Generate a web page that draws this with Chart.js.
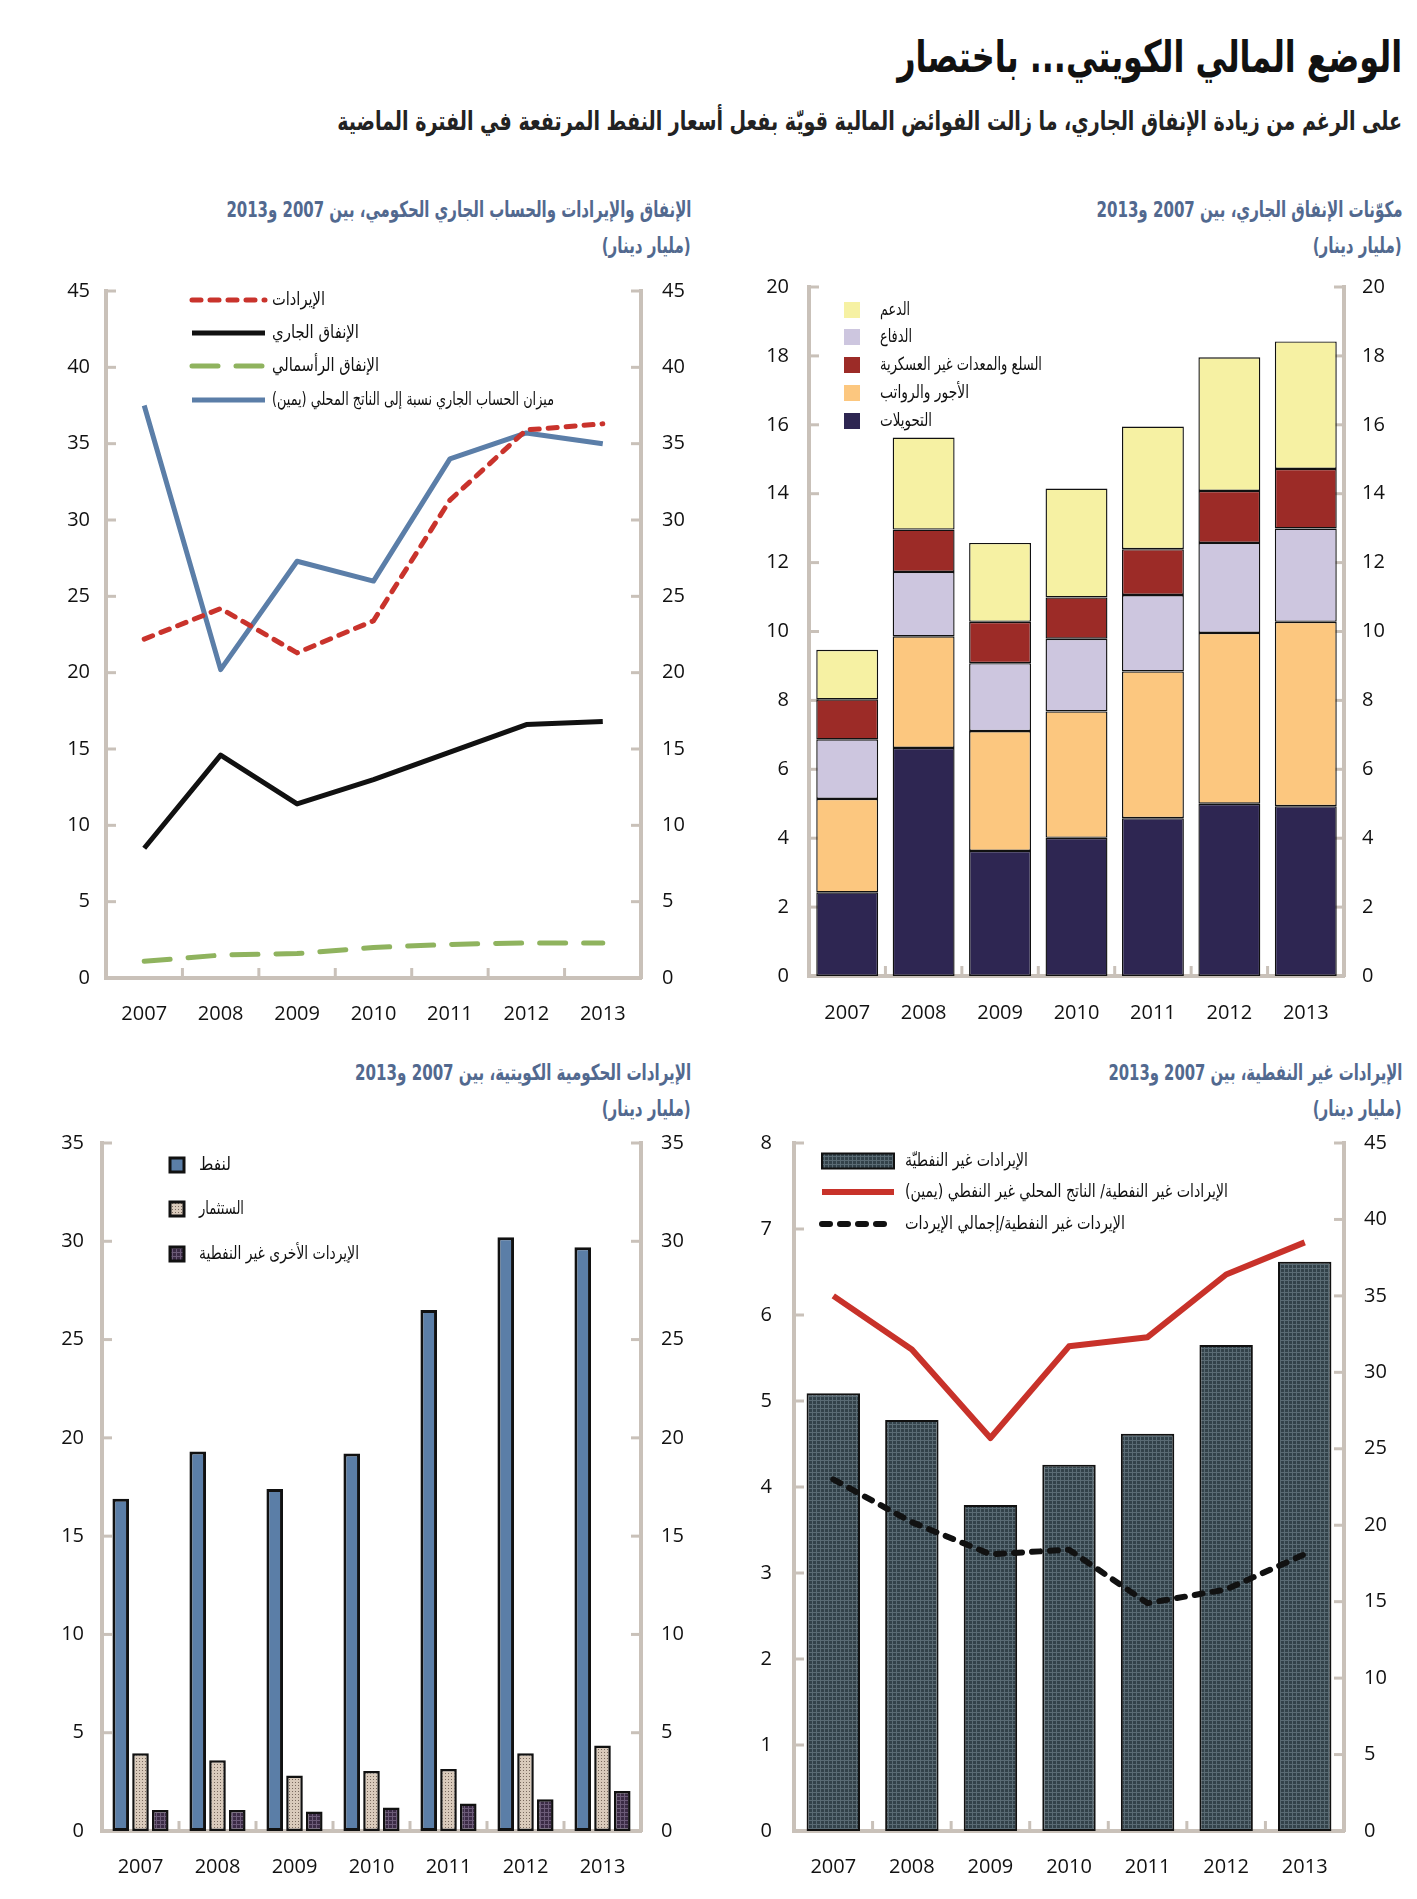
<!DOCTYPE html>
<html lang="ar">
<head>
<meta charset="utf-8">
<script src="https://cdn.jsdelivr.net/npm/chart.js@4.4.1/dist/chart.umd.min.js"></script>
<style>
html,body{margin:0;padding:0;background:#fff;}
body{width:1417px;height:1899px;position:relative;overflow:hidden;font-family:"DejaVu Sans Condensed","DejaVu Sans",sans-serif;}
.t{position:absolute;white-space:nowrap;direction:rtl;transform-origin:right center;line-height:1.3;}
.main{font-size:44px;font-weight:bold;color:#111;}
.sub{font-size:26px;font-weight:bold;color:#222;}
.pt{font-size:22px;font-weight:bold;color:#52698f;}
canvas{position:absolute;}
</style>
</head>
<body>
<div class="t main" data-r="1402" data-cy="57" data-w="505">الوضع المالي الكويتي... باختصار</div>
<div class="t sub" data-r="1402" data-cy="122" data-w="1065">على الرغم من زيادة الإنفاق الجاري، ما زالت الفوائض المالية قويّة بفعل أسعار النفط المرتفعة في الفترة الماضية</div>

<div class="t pt" data-r="691" data-cy="210" data-w="465">الإنفاق والإيرادات والحساب الجاري الحكومي، بين 2007 و2013</div>
<div class="t pt" data-r="691" data-cy="246" data-w="89">(مليار دينار)</div>
<div class="t pt" data-r="1402" data-cy="210" data-w="306">مكوّنات الإنفاق الجاري، بين 2007 و2013</div>
<div class="t pt" data-r="1402" data-cy="246" data-w="89">(مليار دينار)</div>
<div class="t pt" data-r="691" data-cy="1073" data-w="336">الإيرادات الحكومية الكويتية، بين 2007 و2013</div>
<div class="t pt" data-r="691" data-cy="1109" data-w="89">(مليار دينار)</div>
<div class="t pt" data-r="1402" data-cy="1073" data-w="294">الإيرادات غير النفطية، بين 2007 و2013</div>
<div class="t pt" data-r="1402" data-cy="1109" data-w="89">(مليار دينار)</div>

<canvas id="cA" width="708" height="810" style="left:0;top:250px"></canvas>
<canvas id="cB" width="709" height="810" style="left:708px;top:250px"></canvas>
<canvas id="cC" width="708" height="799" style="left:0;top:1100px"></canvas>
<canvas id="cD" width="709" height="799" style="left:708px;top:1100px"></canvas>

<script>
// ---------------- DATA ----------------
const years = ['2007', '2008', '2009', '2010', '2011', '2012', '2013'];

// Chart 1: spending, revenue and current account (billion KD; right axis %)
const revenue = [22.2, 24.2, 21.3, 23.4, 31.3, 35.9, 36.3];
const currentSpending = [8.5, 14.6, 11.4, 13.0, 14.8, 16.6, 16.8];
const capitalSpending = [1.1, 1.5, 1.6, 2.0, 2.2, 2.3, 2.3];
const currentAccountGdp = [37.5, 20.2, 27.3, 26.0, 34.0, 35.7, 35.0];
const ticksA = [0, 45, 5];

// Chart 2: components of current spending (billion KD)
const transfers = [2.43, 6.62, 3.63, 4.01, 4.58, 5.00, 4.93];
const wages = [2.71, 3.24, 3.48, 3.67, 4.26, 4.96, 5.35];
const defense = [1.73, 1.87, 1.97, 2.11, 2.22, 2.61, 2.71];
const goods = [1.16, 1.23, 1.20, 1.20, 1.33, 1.51, 1.73];
const subsidies = [1.44, 2.67, 2.29, 3.16, 3.56, 3.88, 3.70];
const ticksB = [0, 20, 2];

// Chart 3: government revenue (billion KD)
const oilRevenue = [16.9, 19.3, 17.4, 19.2, 26.5, 30.2, 29.7];
const investmentRevenue = [3.95, 3.60, 2.82, 3.05, 3.15, 3.95, 4.35];
const otherNonOil = [1.07, 1.07, 0.99, 1.19, 1.40, 1.62, 2.04];
const ticksC = [0, 35, 5];

// Chart 4: non-oil revenue (billion KD; right axis %)
const nonOilRevenue = [5.09, 4.78, 3.79, 4.26, 4.62, 5.65, 6.62];
const nonOilToNonOilGdp = [35.0, 31.5, 25.7, 31.7, 32.3, 36.4, 38.5];
const nonOilToTotal = [23.0, 20.2, 18.1, 18.4, 14.9, 15.8, 18.1];
const ticksDLeft = [0, 8, 1];
const ticksDRight = [0, 45, 5];

// ---------------- TEXT PLACEMENT ----------------
document.querySelectorAll('.t').forEach(el => {
  const r = +el.dataset.r, cy = +el.dataset.cy, w = +el.dataset.w;
  el.style.right = (1417 - r) + 'px';
  const rect = el.getBoundingClientRect();
  el.style.top = (cy - rect.height / 2) + 'px';
  if (w) el.style.transform = 'scaleX(' + (w / rect.width) + ')';
});

// ---------------- STYLE HELPERS ----------------
const AXIS = '#c9c1b9';
const NUM_FONT = { family: '"Open Sans", sans-serif', size: 20 };
const AR_FONT = '"DejaVu Sans Condensed", "DejaVu Sans", sans-serif';

function pattern(w, h, base, draw) {
  const c = document.createElement('canvas');
  c.width = w; c.height = h;
  const g = c.getContext('2d');
  g.fillStyle = base; g.fillRect(0, 0, w, h);
  draw(g);
  return g.createPattern(c, 'repeat');
}
const investPattern = pattern(3, 3, '#d9cabb', g => { g.fillStyle = '#7a6a5f'; g.fillRect(1, 1, 1, 1); });
const otherPattern = pattern(4, 4, '#3b2b45', g => { g.fillStyle = '#6c5b78'; g.fillRect(0, 0, 4, 1); g.fillRect(0, 0, 1, 4); });
const nonOilPattern = pattern(4, 4, '#33424a', g => { g.fillStyle = '#5a6b74'; g.fillRect(0, 0, 4, 1); g.fillRect(0, 0, 1, 4); });

function yScale(pos, t, width, pad) {
  return {
    type: 'linear', position: pos, min: t[0], max: t[1],
    ticks: { stepSize: t[2], padding: pad, color: '#111', font: NUM_FONT },
    grid: { display: false, drawTicks: false },
    border: { display: true, color: AXIS, width: 4 },
    afterFit(s) { s.width = width; }
  };
}
function xScale(height, pad, stacked) {
  return {
    type: 'category', offset: true, stacked: !!stacked,
    ticks: { padding: pad, color: '#111', font: NUM_FONT, maxRotation: 0, autoSkip: false },
    grid: { display: false, drawTicks: false, offset: true },
    border: { display: true, color: AXIS, width: 4 },
    afterFit(s) { s.height = height; }
  };
}

const innerTicks = {
  id: 'innerTicks',
  beforeDatasetsDraw(chart) {
    const { ctx, chartArea: a } = chart;
    ctx.save();
    ctx.strokeStyle = AXIS; ctx.lineWidth = 3;
    for (const s of Object.values(chart.scales)) {
      if (s.axis === 'y') {
        const left = s.position === 'left';
        const x0 = left ? a.left : a.right, d = left ? 1 : -1;
        s.ticks.forEach(t => {
          const y = s.getPixelForValue(t.value);
          ctx.beginPath(); ctx.moveTo(x0, y); ctx.lineTo(x0 + d * 10, y); ctx.stroke();
        });
      } else {
        for (let i = 0; i < s.ticks.length - 1; i++) {
          const x = (s.getPixelForTick(i) + s.getPixelForTick(i + 1)) / 2;
          ctx.beginPath(); ctx.moveTo(x, a.bottom); ctx.lineTo(x, a.bottom - 10); ctx.stroke();
        }
      }
    }
    ctx.restore();
  }
};

const customLegend = {
  id: 'customLegend',
  afterDatasetsDraw(chart, args, o) {
    if (!o || !o.items) return;
    const ctx = chart.ctx;
    o.items.forEach(it => {
      const ds = chart.data.datasets[it.ds];
      const kind = it.kind || o.kind;
      ctx.save();
      if (kind === 'line') {
        ctx.strokeStyle = ds.borderColor;
        ctx.lineWidth = ds.borderWidth;
        ctx.lineCap = ds.borderCapStyle || 'butt';
        ctx.setLineDash(ds.borderDash || []);
        ctx.beginPath(); ctx.moveTo(o.x0, it.y); ctx.lineTo(o.x1, it.y); ctx.stroke();
        ctx.setLineDash([]);
      } else {
        const h = it.boxH || o.boxH;
        ctx.fillStyle = ds.backgroundColor;
        ctx.fillRect(o.x0, it.y - h / 2, o.x1 - o.x0, h);
        const bw = it.boxBorder || o.boxBorder;
        if (bw) {
          ctx.strokeStyle = ds.borderColor; ctx.lineWidth = bw;
          ctx.strokeRect(o.x0, it.y - h / 2, o.x1 - o.x0, h);
        }
      }
      ctx.restore();
      ctx.save();
      ctx.font = o.fontSize + 'px ' + AR_FONT;
      ctx.direction = 'rtl';
      ctx.textAlign = 'left';
      ctx.textBaseline = 'middle';
      ctx.fillStyle = '#111';
      const m = ctx.measureText(ds.label).width;
      const sx = it.w ? it.w / m : 1;
      ctx.translate(o.textX, it.y);
      ctx.scale(sx, 1);
      ctx.fillText(ds.label, 0, 0);
      ctx.restore();
    });
  }
};

const baseOpts = {
  responsive: false, animation: false,
  events: [],
  elements: { point: { radius: 0 }, line: { tension: 0 } }
};

// ---------------- CHART A ----------------
new Chart(document.getElementById('cA'), {
  type: 'line',
  plugins: [innerTicks, customLegend],
  data: {
    labels: years,
    datasets: [
      { label: 'الإيرادات', data: revenue, borderColor: '#c9332c', borderWidth: 5, borderDash: [9, 9], borderCapStyle: 'round', yAxisID: 'y' },
      { label: 'الإنفاق الجاري', data: currentSpending, borderColor: '#111111', borderWidth: 5, borderJoinStyle: 'round', yAxisID: 'y' },
      { label: 'الإنفاق الرأسمالي', data: capitalSpending, borderColor: '#8fb35e', borderWidth: 5, borderDash: [26, 18], borderCapStyle: 'round', yAxisID: 'y' },
      { label: 'ميزان الحساب الجاري نسبة إلى الناتج المحلي (يمين)', data: currentAccountGdp, borderColor: '#5b7ea8', borderWidth: 5, borderJoinStyle: 'round', yAxisID: 'y1' }
    ]
  },
  options: Object.assign({}, baseOpts, {
    layout: { padding: { top: 41, left: 0, right: 0, bottom: 0 } },
    scales: { x: xScale(82, 24), y: yScale('left', ticksA, 106, 16), y1: yScale('right', ticksA, 67, 21) },
    plugins: {
      legend: { display: false }, tooltip: { enabled: false },
      customLegend: {
        kind: 'line', x0: 192, x1: 265, textX: 272, fontSize: 18,
        items: [{ ds: 0, y: 50, w: 53 }, { ds: 1, y: 83, w: 87 }, { ds: 2, y: 116, w: 107 }, { ds: 3, y: 150, w: 282 }]
      }
    }
  })
});

// ---------------- CHART B ----------------
const barB = { borderColor: '#111', borderWidth: 1.4, borderSkipped: false, categoryPercentage: 0.9, barPercentage: 0.9 };
new Chart(document.getElementById('cB'), {
  type: 'bar',
  plugins: [innerTicks, customLegend],
  data: {
    labels: years,
    datasets: [
      Object.assign({ label: 'التحويلات', data: transfers, backgroundColor: '#2e2652' }, barB),
      Object.assign({ label: 'الأجور والرواتب', data: wages, backgroundColor: '#fcc77f' }, barB),
      Object.assign({ label: 'الدفاع', data: defense, backgroundColor: '#cdc6df' }, barB),
      Object.assign({ label: 'السلع والمعدات غير العسكرية', data: goods, backgroundColor: '#9c2b27' }, barB),
      Object.assign({ label: 'الدعم', data: subsidies, backgroundColor: '#f6f1a3' }, barB)
    ]
  },
  options: Object.assign({}, baseOpts, {
    layout: { padding: { top: 37, left: 0, right: 0, bottom: 0 } },
    scales: {
      x: xScale(84, 25, true),
      y: Object.assign(yScale('left', ticksB, 101, 20), { stacked: true }),
      y1: yScale('right', ticksB, 73, 18)
    },
    plugins: {
      legend: { display: false }, tooltip: { enabled: false },
      customLegend: {
        kind: 'box', x0: 136, x1: 152, boxH: 16, textX: 172, fontSize: 18,
        items: [{ ds: 4, y: 60, w: 30 }, { ds: 2, y: 87, w: 32 }, { ds: 3, y: 115, w: 162 }, { ds: 1, y: 143, w: 89 }, { ds: 0, y: 171, w: 52 }]
      }
    }
  })
});

// ---------------- CHART C ----------------
const barC = { borderColor: '#111', borderSkipped: false, categoryPercentage: 0.77, barPercentage: 0.84 };
new Chart(document.getElementById('cC'), {
  type: 'bar',
  plugins: [innerTicks, customLegend],
  data: {
    labels: years,
    datasets: [
      Object.assign({ label: 'لنفط', data: oilRevenue, backgroundColor: '#5b7ea7', borderWidth: 3 }, barC),
      Object.assign({ label: 'الستثمار', data: investmentRevenue, backgroundColor: investPattern, borderWidth: 2.5 }, barC),
      Object.assign({ label: 'الإيردات الأخرى غير النفطية', data: otherNonOil, backgroundColor: otherPattern, borderWidth: 2.5 }, barC)
    ]
  },
  options: Object.assign({}, baseOpts, {
    layout: { padding: { top: 43, left: 0, right: 0, bottom: 0 } },
    scales: { x: xScale(68, 24), y: yScale('left', ticksC, 102, 18), y1: yScale('right', ticksC, 67, 20) },
    plugins: {
      legend: { display: false }, tooltip: { enabled: false },
      customLegend: {
        kind: 'box', x0: 170, x1: 184, boxH: 14, boxBorder: 3, textX: 199, fontSize: 18,
        items: [{ ds: 0, y: 65, w: 32 }, { ds: 1, y: 109, w: 45 }, { ds: 2, y: 154, w: 160 }]
      }
    }
  })
});

// ---------------- CHART D ----------------
new Chart(document.getElementById('cD'), {
  type: 'bar',
  plugins: [innerTicks, customLegend],
  data: {
    labels: years,
    datasets: [
      { type: 'bar', label: 'الإيرادات غير النفطيّة', data: nonOilRevenue, backgroundColor: nonOilPattern, borderColor: '#111', borderWidth: 2, borderSkipped: false, categoryPercentage: 0.8, barPercentage: 0.85, yAxisID: 'y', order: 5 },
      { type: 'line', label: 'الإيرادات غير النفطية/ الناتج المحلي غير النفطي (يمين)', data: nonOilToNonOilGdp, borderColor: '#c8322a', borderWidth: 6, borderJoinStyle: 'round', yAxisID: 'y1', order: 1 },
      { type: 'line', label: 'الإيردات غير النفطية/إجمالي الإيردات', data: nonOilToTotal, borderColor: '#111111', borderWidth: 6, borderDash: [8, 10], borderCapStyle: 'round', yAxisID: 'y1', order: 0 }
    ]
  },
  options: Object.assign({}, baseOpts, {
    layout: { padding: { top: 43, left: 0, right: 0, bottom: 0 } },
    scales: { x: xScale(68, 24), y: yScale('left', ticksDLeft, 86, 22), y1: yScale('right', ticksDRight, 73, 20) },
    plugins: {
      legend: { display: false }, tooltip: { enabled: false },
      customLegend: {
        kind: 'line', x0: 114, x1: 186, textX: 197, fontSize: 18, boxH: 15, boxBorder: 2,
        items: [{ ds: 0, kind: 'box', y: 61, w: 123 }, { ds: 1, y: 92, w: 323 }, { ds: 2, y: 124, w: 220 }]
      }
    }
  })
});
</script>
</body>
</html>
